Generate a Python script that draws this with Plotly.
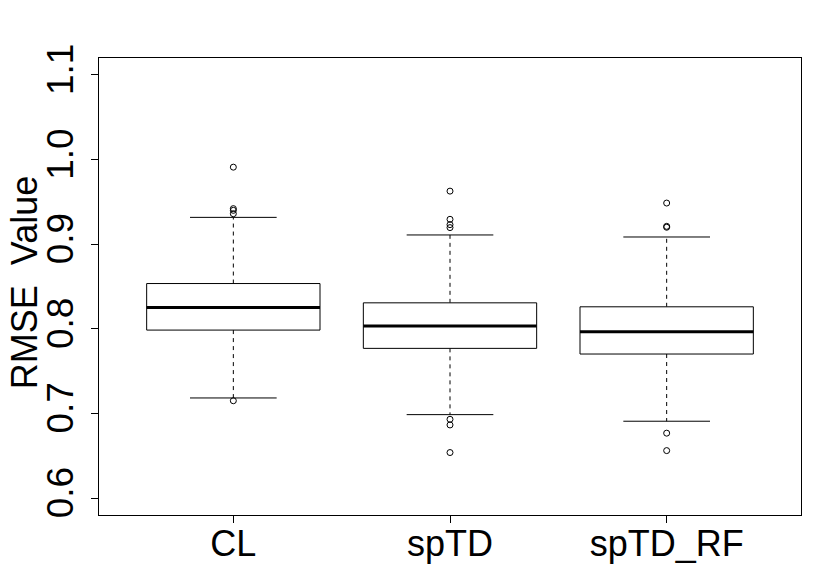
import plotly.graph_objects as go

categories = ["CL", "spTD", "spTD_RF"]
q1 = [0.7985, 0.7769, 0.7702]
median = [0.8252, 0.8032, 0.7965]
q3 = [0.8535, 0.8307, 0.8260]
lower_whisker = [0.7183, 0.6986, 0.6908]
upper_whisker = [0.9317, 0.9109, 0.9085]
outliers = [
    [0.991, 0.942, 0.940, 0.936, 0.715],
    [0.9627, 0.9294, 0.9231, 0.9196, 0.6931, 0.6864, 0.6538],
    [0.9486, 0.9211, 0.9200, 0.6767, 0.6561],
]
y_ticks = [0.6, 0.7, 0.8, 0.9, 1.0, 1.1]
y_title = "RMSE  Value"

BOX_HALF = 0.4
CAP_HALF = 0.2
FONT = "Liberation Sans, Arial, sans-serif"

fig = go.Figure()
positions = list(range(1, len(categories) + 1))

for i, p in enumerate(positions):
    # whiskers (dashed)
    fig.add_trace(go.Scatter(
        x=[p, p, None, p, p],
        y=[q3[i], upper_whisker[i], None, q1[i], lower_whisker[i]],
        mode="lines", line=dict(color="black", width=1, dash="4px,4px"),
        hoverinfo="skip", showlegend=False))
    # caps
    fig.add_trace(go.Scatter(
        x=[p - CAP_HALF, p + CAP_HALF, None, p - CAP_HALF, p + CAP_HALF],
        y=[upper_whisker[i], upper_whisker[i], None, lower_whisker[i], lower_whisker[i]],
        mode="lines", line=dict(color="black", width=1),
        hoverinfo="skip", showlegend=False))
    # box
    fig.add_trace(go.Scatter(
        x=[p - BOX_HALF, p + BOX_HALF, p + BOX_HALF, p - BOX_HALF, p - BOX_HALF],
        y=[q1[i], q1[i], q3[i], q3[i], q1[i]],
        mode="lines", line=dict(color="black", width=1),
        fill="toself", fillcolor="white",
        hoverinfo="skip", showlegend=False))
    # median
    fig.add_trace(go.Scatter(
        x=[p - BOX_HALF, p + BOX_HALF],
        y=[median[i], median[i]],
        mode="lines", line=dict(color="black", width=3),
        hoverinfo="skip", showlegend=False))
    # outliers
    fig.add_trace(go.Scatter(
        x=[p] * len(outliers[i]), y=outliers[i],
        mode="markers",
        marker=dict(symbol="circle-open", size=6, color="black", line=dict(width=1)),
        hoverinfo="skip", showlegend=False))

fig.add_annotation(
    text=y_title, xref="paper", yref="paper", x=0, y=0.5,
    xanchor="center", yanchor="middle", textangle=-90,
    xshift=-75, yshift=4, showarrow=False,
    width=230, height=32, borderpad=0,
    font=dict(family=FONT, size=36, color="black"),
)

fig.update_layout(
    width=830, height=588,
    margin=dict(l=91, r=37, t=50, b=81),
    paper_bgcolor="white", plot_bgcolor="white",
    font=dict(family=FONT, color="black", size=37),
    xaxis=dict(
        range=[0.38, 3.62], tickmode="array", tickvals=positions, ticktext=categories,
        showgrid=False, zeroline=False, showline=True, mirror=True,
        linecolor="black", linewidth=1, ticks="outside", ticklen=7,
        tickcolor="black", tickfont=dict(size=36), ticklabelstandoff=-10,
        automargin=False,
    ),
    yaxis=dict(
        range=[0.58, 1.12], tickmode="array", tickvals=y_ticks,
        ticktext=[f"{v:.1f}" for v in y_ticks],
        showgrid=False, zeroline=False, showline=True, mirror=True,
        linecolor="black", linewidth=1, ticks="outside", ticklen=7,
        tickcolor="black", tickangle=-90, tickfont=dict(size=37),
        ticklabelstandoff=3, automargin=False,
    ),
)

fig.write_html("out.html")
